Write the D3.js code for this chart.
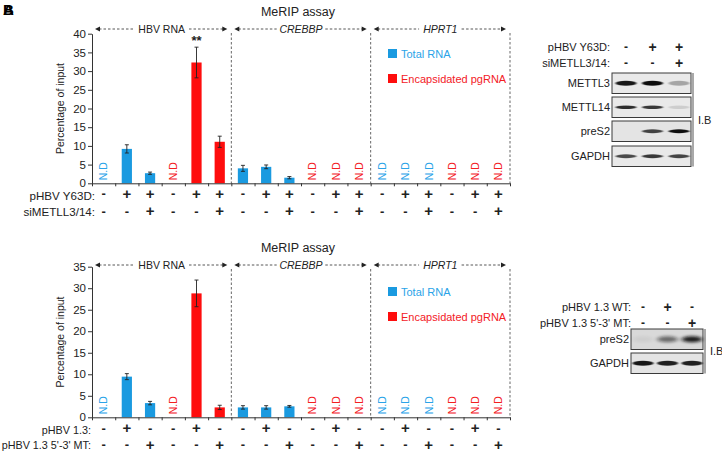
<!DOCTYPE html>
<html><head><meta charset="utf-8">
<script src="https://cdn.jsdelivr.net/npm/d3@7"></script>
<style>
body{margin:0;background:#fff;}
text{font-family:Arial,"Liberation Sans",sans-serif;}
</style></head>
<body><svg id="c" width="722" height="451"></svg>
<script>
// ---------- DATA ----------
const categories = d3.range(18);
const groups = ["HBV RNA", "CREBBP", "HPRT1"];
const groupItalic = [false, true, true];
const seriesNames = ["Total RNA", "Encapsidated pgRNA"];
// series per category: 0 = Total RNA, 1 = Encapsidated pgRNA
const categorySeries = [0,0,0,1,1,1, 0,0,0,1,1,1, 0,0,0,1,1,1];

const topValues = [null, 9.2, 2.7, null, 32.3, 11.1, 4.0, 4.4, 1.5, null, null, null, null, null, null, null, null, null];
const topErrors = [null, 1.1, 0.3, null, 4.1, 1.5, 0.8, 0.5, 0.3, null, null, null, null, null, null, null, null, null];
const topSignif = [null, null, null, null, "**", null, null, null, null, null, null, null, null, null, null, null, null, null];
const topTicks = [0,5,10,15,20,25,30,35,40];
const topRowLabels = ["pHBV Y63D:", "siMETLL3/14:"];
const topRow1 = ["-","+","+","-","+","+", "-","+","+","-","+","+", "-","+","+","-","+","+"];
const topRow2 = ["-","-","+","-","-","+", "-","-","+","-","-","+", "-","-","+","-","-","+"];

const botValues = [null, 9.45, 3.3, null, 28.8, 2.3, 2.3, 2.3, 2.55, null, null, null, null, null, null, null, null, null];
const botErrors = [null, 0.7, 0.4, null, 3.1, 0.5, 0.4, 0.4, 0.2, null, null, null, null, null, null, null, null, null];
const botSignif = categories.map(() => null);
const botTicks = [0,5,10,15,20,25,30,35];
const botRowLabels = ["pHBV 1.3:", "pHBV 1.3 5'-3' MT:"];
const botRow1 = ["-","+","-","-","+","-", "-","+","-","-","+","-", "-","+","-","-","+","-"];
const botRow2 = ["-","-","+","-","-","+", "-","-","+","-","-","+", "-","-","+","-","-","+"];

// western blot (band intensity 0..1 per lane)
const blotTopRowLabels = ["pHBV Y63D:", "siMETLL3/14:"];
const blotTopSigns = [["-","+","+"], ["-","-","+"]];
const blotTopProteins = ["METTL3", "METTL14", "preS2", "GAPDH"];
const blotTopBands = [[0.95, 1.0, 0.3], [0.85, 0.8, 0.12], [0.0, 0.75, 1.0], [0.72, 0.8, 0.75]];
const blotBotRowLabels = ["pHBV 1.3 WT:", "pHBV 1.3 5'-3' MT:"];
const blotBotSigns = [["-","+","-"], ["-","-","+"]];
const blotBotProteins = ["preS2", "GAPDH"];
const blotBotBands = [[0.05, 0.55, 0.95], [0.95, 0.9, 0.9]];

// ---------- STYLE ----------
const BLUE = "#1a9ae0", RED = "#fe0d0d";
const colors = [BLUE, RED];
const ND_COL = ["#2aa3e8", "#f3201f"];
const svg = d3.select("#c");

const defs = svg.append("defs");
defs.append("filter").attr("id","blur").attr("x","-50%").attr("y","-200%").attr("width","200%").attr("height","500%")
  .append("feGaussianBlur").attr("stdDeviation", "1.1 0.7");
defs.append("filter").attr("id","blur2").attr("x","-50%").attr("y","-200%").attr("width","200%").attr("height","500%")
  .append("feGaussianBlur").attr("stdDeviation", "2 1.4");

// panel label
svg.append("text").attr("x",3).attr("y",15).attr("font-size",15).attr("font-weight","bold").text("A");
svg.append("text").attr("x",3).attr("y",15).attr("font-size",15).attr("font-weight","bold").text("B");

function drawChart(cfg){
  const x = d3.scaleBand().domain(categories).range([92, 510]).paddingInner(0.56).paddingOuter(0.28);
  const xb = d3.scaleLinear().domain([0, 18]).range([92, 510]);
  const y = d3.scaleLinear().domain([0, cfg.ymax]).range([cfg.y0, cfg.y1]);
  const g = svg.append("g");

  // title
  g.append("text").attr("x", 298).attr("y", cfg.titleY).attr("text-anchor","middle")
    .attr("font-size", 12.5).attr("fill","#222").text("MeRIP assay");

  // group headers
  groups.forEach((name, gi) => {
    const l = xb(gi*6), r = xb(gi*6+6), cx = (l+r)/2, hy = cfg.headY;
    const tw = name.length * 6.1 + 12;
    g.append("text").attr("x", cx).attr("y", hy+3.8).attr("text-anchor","middle")
      .attr("font-size", 10.5).attr("fill","#222").attr("font-style", groupItalic[gi] ? "italic" : "normal").text(name);
    const lx1 = l + 3, rx1 = r - 4;
    g.append("line").attr("x1", lx1+4).attr("x2", cx - tw/2).attr("y1", hy).attr("y2", hy)
      .attr("stroke","#444").attr("stroke-width",0.9).attr("stroke-dasharray","2.5,2");
    g.append("line").attr("x1", cx + tw/2).attr("x2", rx1-4).attr("y1", hy).attr("y2", hy)
      .attr("stroke","#444").attr("stroke-width",0.9).attr("stroke-dasharray","2.5,2");
    g.append("path").attr("d", `M${lx1},${hy} L${lx1+5},${hy-2.6} L${lx1+5},${hy+2.6} Z`).attr("fill","#222");
    g.append("path").attr("d", `M${rx1},${hy} L${rx1-5},${hy-2.6} L${rx1-5},${hy+2.6} Z`).attr("fill","#222");
  });

  // separators
  [6, 12, 18].forEach(k => {
    g.append("line").attr("x1", xb(k)).attr("x2", xb(k)).attr("y1", cfg.headY + 4).attr("y2", cfg.y0)
      .attr("stroke","#555").attr("stroke-width",0.9).attr("stroke-dasharray","2.5,2");
  });

  // bars
  const withVal = categories.filter(i => cfg.values[i] != null);
  g.selectAll(".bar").data(withVal).join("rect")
    .attr("x", i => x(i)).attr("width", x.bandwidth())
    .attr("y", i => y(cfg.values[i])).attr("height", i => y(0) - y(cfg.values[i]))
    .attr("fill", i => colors[categorySeries[i]]);
  // error bars
  withVal.forEach(i => {
    const cx = x(i) + x.bandwidth()/2, v = cfg.values[i], e = cfg.errors[i];
    const eg = g.append("g").attr("stroke","#222").attr("stroke-width",0.9);
    eg.append("line").attr("x1",cx).attr("x2",cx).attr("y1",y(v+e)).attr("y2",y(v-e));
    eg.append("line").attr("x1",cx-2).attr("x2",cx+2).attr("y1",y(v+e)).attr("y2",y(v+e));
    eg.append("line").attr("x1",cx-2).attr("x2",cx+2).attr("y1",y(v-e)).attr("y2",y(v-e));
    if (cfg.signif[i]) {
      g.append("text").attr("x",cx).attr("y",y(v+e)-2).attr("text-anchor","middle")
        .attr("font-size",13).attr("font-weight","bold").attr("fill","#222").text(cfg.signif[i]);
    }
  });
  // N.D labels
  categories.filter(i => cfg.values[i] == null).forEach(i => {
    const cx = x(i) + x.bandwidth()/2;
    g.append("text").attr("transform", `translate(${cx+3.8},${cfg.y0-3}) rotate(-90)`)
      .attr("font-size",10.5).attr("fill", ND_COL[categorySeries[i]]).text("N.D");
  });

  // y axis
  const ya = g.append("g").attr("transform","translate(92,0)")
    .call(d3.axisLeft(y).tickValues(cfg.ticks).tickSize(4).tickSizeOuter(0).tickPadding(2));
  ya.selectAll("text").attr("font-size",11.5).attr("fill","#222").style("font-family","Arial,'Liberation Sans',sans-serif");
  ya.selectAll("line,path").attr("stroke","#333");
  g.append("text").attr("transform", `translate(64,${(cfg.y0+cfg.y1)/2}) rotate(-90)`).attr("text-anchor","middle")
    .attr("font-size",10.5).attr("fill","#222").text("Percentage of input");

  // x axis
  const xa = g.append("g").attr("transform",`translate(0,${cfg.y0})`)
    .call(d3.axisBottom(xb).tickValues(d3.range(0,19)).tickFormat("").tickSize(3).tickSizeOuter(0));
  xa.selectAll("line,path").attr("stroke","#333");

  // sign rows
  [cfg.row1, cfg.row2].forEach((row, ri) => {
    const ry = cfg.rowY[ri];
    g.append("text").attr("x", cfg.labelRight).attr("y", ry + (ri===0 ? cfg.labelShift : 0)).attr("text-anchor","end").attr("font-size",cfg.labelSize)
      .attr("fill","#222").text(cfg.rowLabels[ri]);
    categories.forEach(i => {
      g.append("text").attr("x", x(i) + x.bandwidth()/2).attr("y", ry + (row[i]==="+"?0.5:0)).attr("text-anchor","middle")
        .attr("font-size", row[i]==="+" ? 15 : 13).attr("font-weight","bold").attr("fill","#222").text(row[i]);
    });
  });

  // legend
  seriesNames.forEach((s, si) => {
    const ly = cfg.legY + si*25;
    g.append("rect").attr("x",388).attr("y",ly-5).attr("width",9).attr("height",9).attr("fill",colors[si]);
    g.append("text").attr("x",401).attr("y",ly+3.8).attr("font-size",11).attr("fill",ND_COL[si]).text(s);
  });
}

drawChart({ymax:40, y0:183.3, y1:33.7, values:topValues, errors:topErrors, signif:topSignif, ticks:topTicks,
  titleY:16, headY:29, rowY:[198, 215.5], rowLabels:topRowLabels, row1:topRow1, row2:topRow2, legY:54,
  labelRight:95, labelSize:11.6, labelShift:1.6});
drawChart({ymax:35, y0:417.3, y1:266.7, values:botValues, errors:botErrors, signif:botSignif, ticks:botTicks,
  titleY:252, headY:265, rowY:[432.5, 449], rowLabels:botRowLabels, row1:botRow1, row2:botRow2, legY:292,
  labelRight:91, labelSize:10.8, labelShift:1.3});

// ---------- blots ----------
function drawBlot(cfg){
  const g = svg.append("g");
  const lx = d3.scalePoint().domain([0,1,2]).range(cfg.lanes);
  cfg.rowLabels.forEach((lab, ri) => {
    const ry = cfg.signY[ri];
    g.append("text").attr("x",cfg.labelRight).attr("y",ry).attr("text-anchor","end").attr("font-size",11).attr("fill","#222").text(lab);
    cfg.signs[ri].forEach((s, li) => {
      g.append("text").attr("x",lx(li)).attr("y",ry + (s==="+"?0.5:0)).attr("text-anchor","middle")
        .attr("font-size", s==="+"?14:12).attr("font-weight","bold").attr("fill","#222").text(s);
    });
  });
  cfg.proteins.forEach((p, pi) => {
    const by = cfg.boxY[pi], bh = cfg.boxH;
    g.append("rect").attr("x",cfg.boxX[0]).attr("y",by).attr("width",cfg.boxX[1]-cfg.boxX[0]).attr("height",bh)
      .attr("fill", cfg.boxFill[pi]).attr("stroke","#3a3a3a").attr("stroke-width",1);
    g.append("text").attr("x",cfg.boxX[0]-2).attr("y",by+bh/2+4).attr("text-anchor","end").attr("font-size",11).attr("fill","#222").text(p);
    cfg.bands[pi].forEach((v, li) => {
      if (v <= 0) return;
      g.append("ellipse").attr("cx", lx(li)).attr("cy", by+bh/2).attr("rx", cfg.bandW/2).attr("ry", cfg.bandH[pi])
        .attr("fill", "#111").attr("opacity", v).attr("filter", cfg.soft[pi] ? "url(#blur2)" : "url(#blur)");
    });
  });
  const top = cfg.boxY[0], bot = cfg.boxY[cfg.boxY.length-1] + cfg.boxH;
  g.append("line").attr("x1",cfg.vline).attr("x2",cfg.vline).attr("y1",top).attr("y2",bot).attr("stroke","#555").attr("stroke-width",1);
  g.append("text").attr("x",cfg.vline+5).attr("y",(top+bot)/2+4).attr("font-size",11).attr("fill","#222").text("I.B");
}
drawBlot({rowLabels:blotTopRowLabels, signs:blotTopSigns, proteins:blotTopProteins, bands:blotTopBands,
  lanes:[626,679], labelRight:610, signY:[51,67], boxX:[612,691], boxY:[73,97,121,146], boxH:20.5,
  boxFill:["#e9e9e9","#e9e9e9","#e4e4e4","#e9e9e9"], bandW:21, bandH:[2.4,1.7,1.9,1.9], soft:[false,false,false,false], vline:693});
drawBlot({rowLabels:blotBotRowLabels, signs:blotBotSigns, proteins:blotBotProteins, bands:blotBotBands,
  lanes:[643,692], labelRight:631, signY:[311,327], boxX:[631,703], boxY:[329,353], boxH:20.5,
  boxFill:["#d9d9d9","#e4e4e4"], bandW:21, bandH:[3,2.4], soft:[true,false], vline:705});
</script></body></html>
